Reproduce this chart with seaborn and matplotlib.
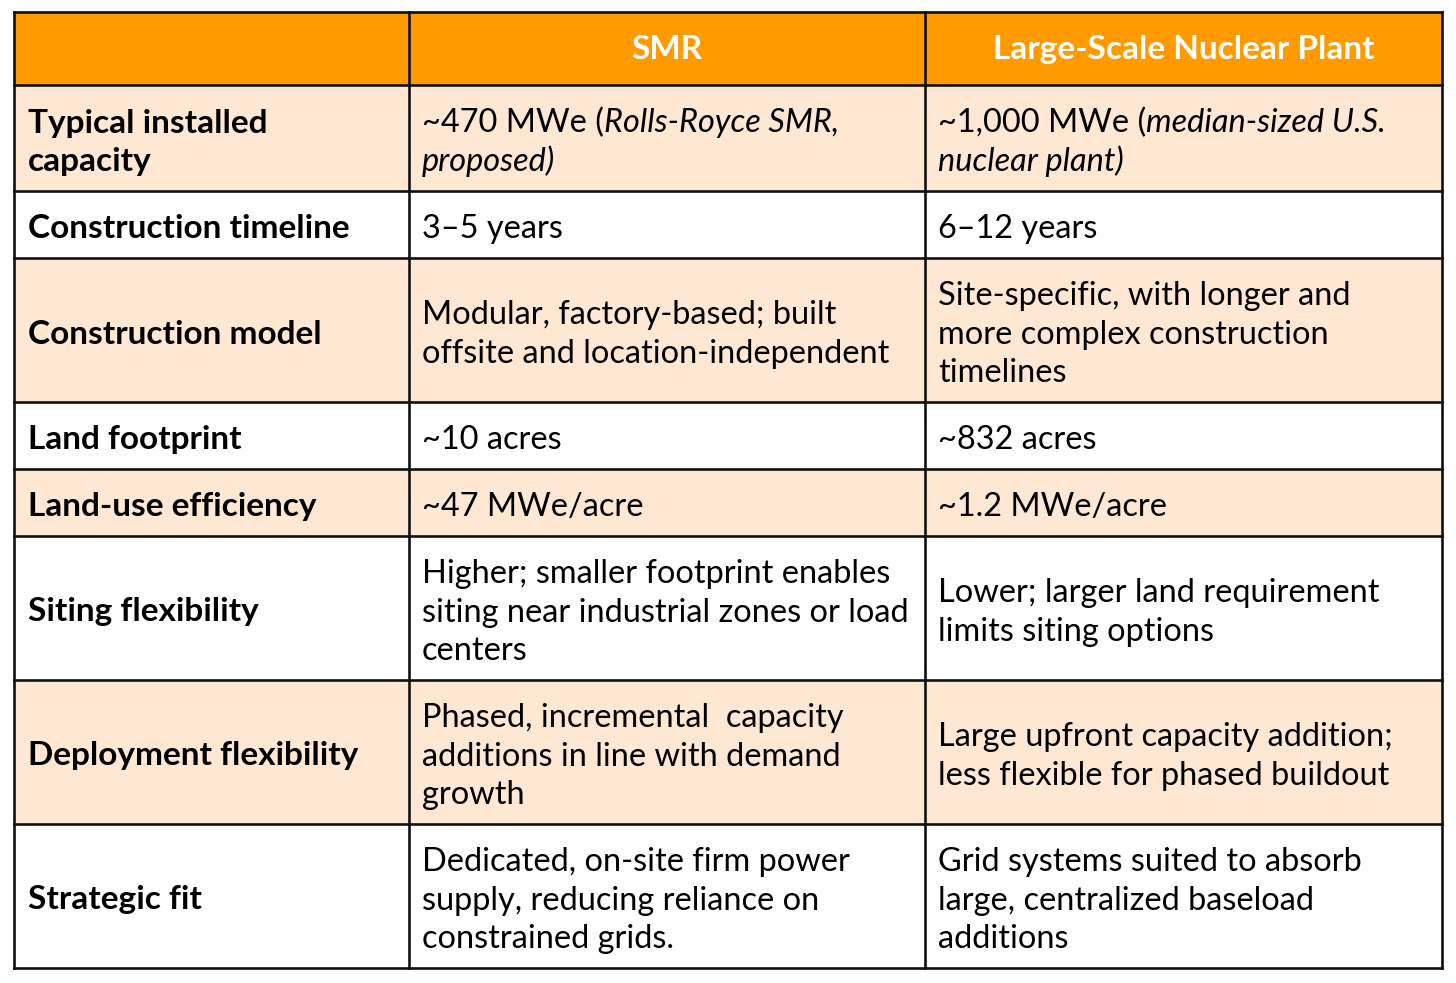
import matplotlib
matplotlib.use("Agg")
import matplotlib.pyplot as plt
from matplotlib.patches import Rectangle
import seaborn as sns

# ---------------- data ----------------
headers = ["", "SMR", "Large-Scale Nuclear Plant"]
row_labels = [
    ["Typical installed", "capacity"],
    ["Construction timeline"],
    ["Construction model"],
    ["Land footprint"],
    ["Land-use efficiency"],
    ["Siting flexibility"],
    ["Deployment flexibility"],
    ["Strategic fit"],
]
# segments in {} are italic
smr_values = [
    ["~470 MWe ({Rolls-Royce SMR,}", "{proposed)}"],
    ["3–5 years"],
    ["Modular, factory-based; built", "offsite and location-independent"],
    ["~10 acres"],
    ["~47 MWe/acre"],
    ["Higher; smaller footprint enables", "siting near industrial zones or load", "centers"],
    ["Phased, incremental  capacity", "additions in line with demand", "growth"],
    ["Dedicated, on-site firm power", "supply, reducing reliance on", "constrained grids."],
]
large_values = [
    ["~1,000 MWe ({median-sized U.S.}", "{nuclear plant)}"],
    ["6–12 years"],
    ["Site-specific, with longer and", "more complex construction", "timelines"],
    ["~832 acres"],
    ["~1.2 MWe/acre"],
    ["Lower; larger land requirement", "limits siting options"],
    ["Large upfront capacity addition;", "less flexible for phased buildout"],
    ["Grid systems suited to absorb", "large, centralized baseload", "additions"],
]

# ---------------- style ----------------
sns.set_theme(style="white")
FONT = ["Lato", "DejaVu Sans"]
plt.rcParams["font.family"] = FONT

HEADER_COLOR = "#FF9A00"
PEACH = "#FEE8D3"
WHITE = "#FFFFFF"
FS_BOLD = 24
FS_BODY = 23.4

W, H = 1456, 983
fig = plt.figure(figsize=(W / 100, H / 100), dpi=100)
ax = fig.add_axes([0, 0, 1, 1])
ax.set_xlim(0, W)
ax.set_ylim(H, 0)
ax.axis("off")
fig.patch.set_facecolor("white")

col_x = [14, 409, 925, 1442]
top = 12
header_h = 73
line_h = 38.5
base_h = 67

rows_lines = []
for i in range(len(row_labels)):
    n = max(len(row_labels[i]), len(smr_values[i]), len(large_values[i]))
    rows_lines.append(n)
row_heights = [base_h + line_h * (n - 1) for n in rows_lines]

edges = [top, top + header_h]
for h in row_heights:
    edges.append(edges[-1] + h)

renderer = fig.canvas.get_renderer()


def parse(line):
    segs = []
    buf = ""
    ital = False
    for ch in line:
        if ch == "{":
            if buf:
                segs.append((buf, ital))
            buf, ital = "", True
        elif ch == "}":
            if buf:
                segs.append((buf, ital))
            buf, ital = "", False
        else:
            buf += ch
    if buf:
        segs.append((buf, ital))
    return segs


def draw_line(x, y, line, weight="normal", fs=FS_BODY, color="black"):
    for text, ital in parse(line):
        t = ax.text(x, y, text, fontsize=fs, fontweight=weight,
                    fontstyle="italic" if ital else "normal",
                    color=color, ha="left", va="baseline", family=FONT)
        bb = t.get_window_extent(renderer)
        x += bb.width


def draw_cell(x, y0, y1, lines, weight="normal", fs=FS_BODY):
    n = len(lines)
    cy = (y0 + y1) / 2
    for k, line in enumerate(lines):
        y = cy + (k - (n - 1) / 2) * line_h + 14
        draw_line(x, y, line, weight=weight, fs=fs)


# header
ax.add_patch(Rectangle((col_x[0], edges[0]), col_x[-1] - col_x[0], header_h,
                       facecolor=HEADER_COLOR, edgecolor="none", zorder=0))
for j in (1, 2):
    ax.text((col_x[j] + col_x[j + 1]) / 2, edges[0] + header_h / 2 + 1, headers[j],
            fontsize=FS_BOLD, fontweight="bold", color="white", ha="center", va="center")

# body rows
for i in range(len(row_labels)):
    y0, y1 = edges[i + 1], edges[i + 2]
    fc = PEACH if i % 2 == 0 else WHITE
    ax.add_patch(Rectangle((col_x[0], y0), col_x[-1] - col_x[0], y1 - y0,
                           facecolor=fc, edgecolor="none", zorder=0))
    draw_cell(col_x[0] + 14, y0, y1, row_labels[i], weight="bold", fs=FS_BOLD)
    draw_cell(col_x[1] + 13, y0, y1, smr_values[i])
    draw_cell(col_x[2] + 13, y0, y1, large_values[i])

# grid lines
LW = 1.9
for y in edges:
    ax.plot([col_x[0], col_x[-1]], [y, y], color="#111111", lw=LW, solid_capstyle="projecting")
for x in col_x:
    ax.plot([x, x], [edges[0], edges[-1]], color="#111111", lw=LW, solid_capstyle="projecting")

fig.savefig("out.png", dpi=100, facecolor="white")
